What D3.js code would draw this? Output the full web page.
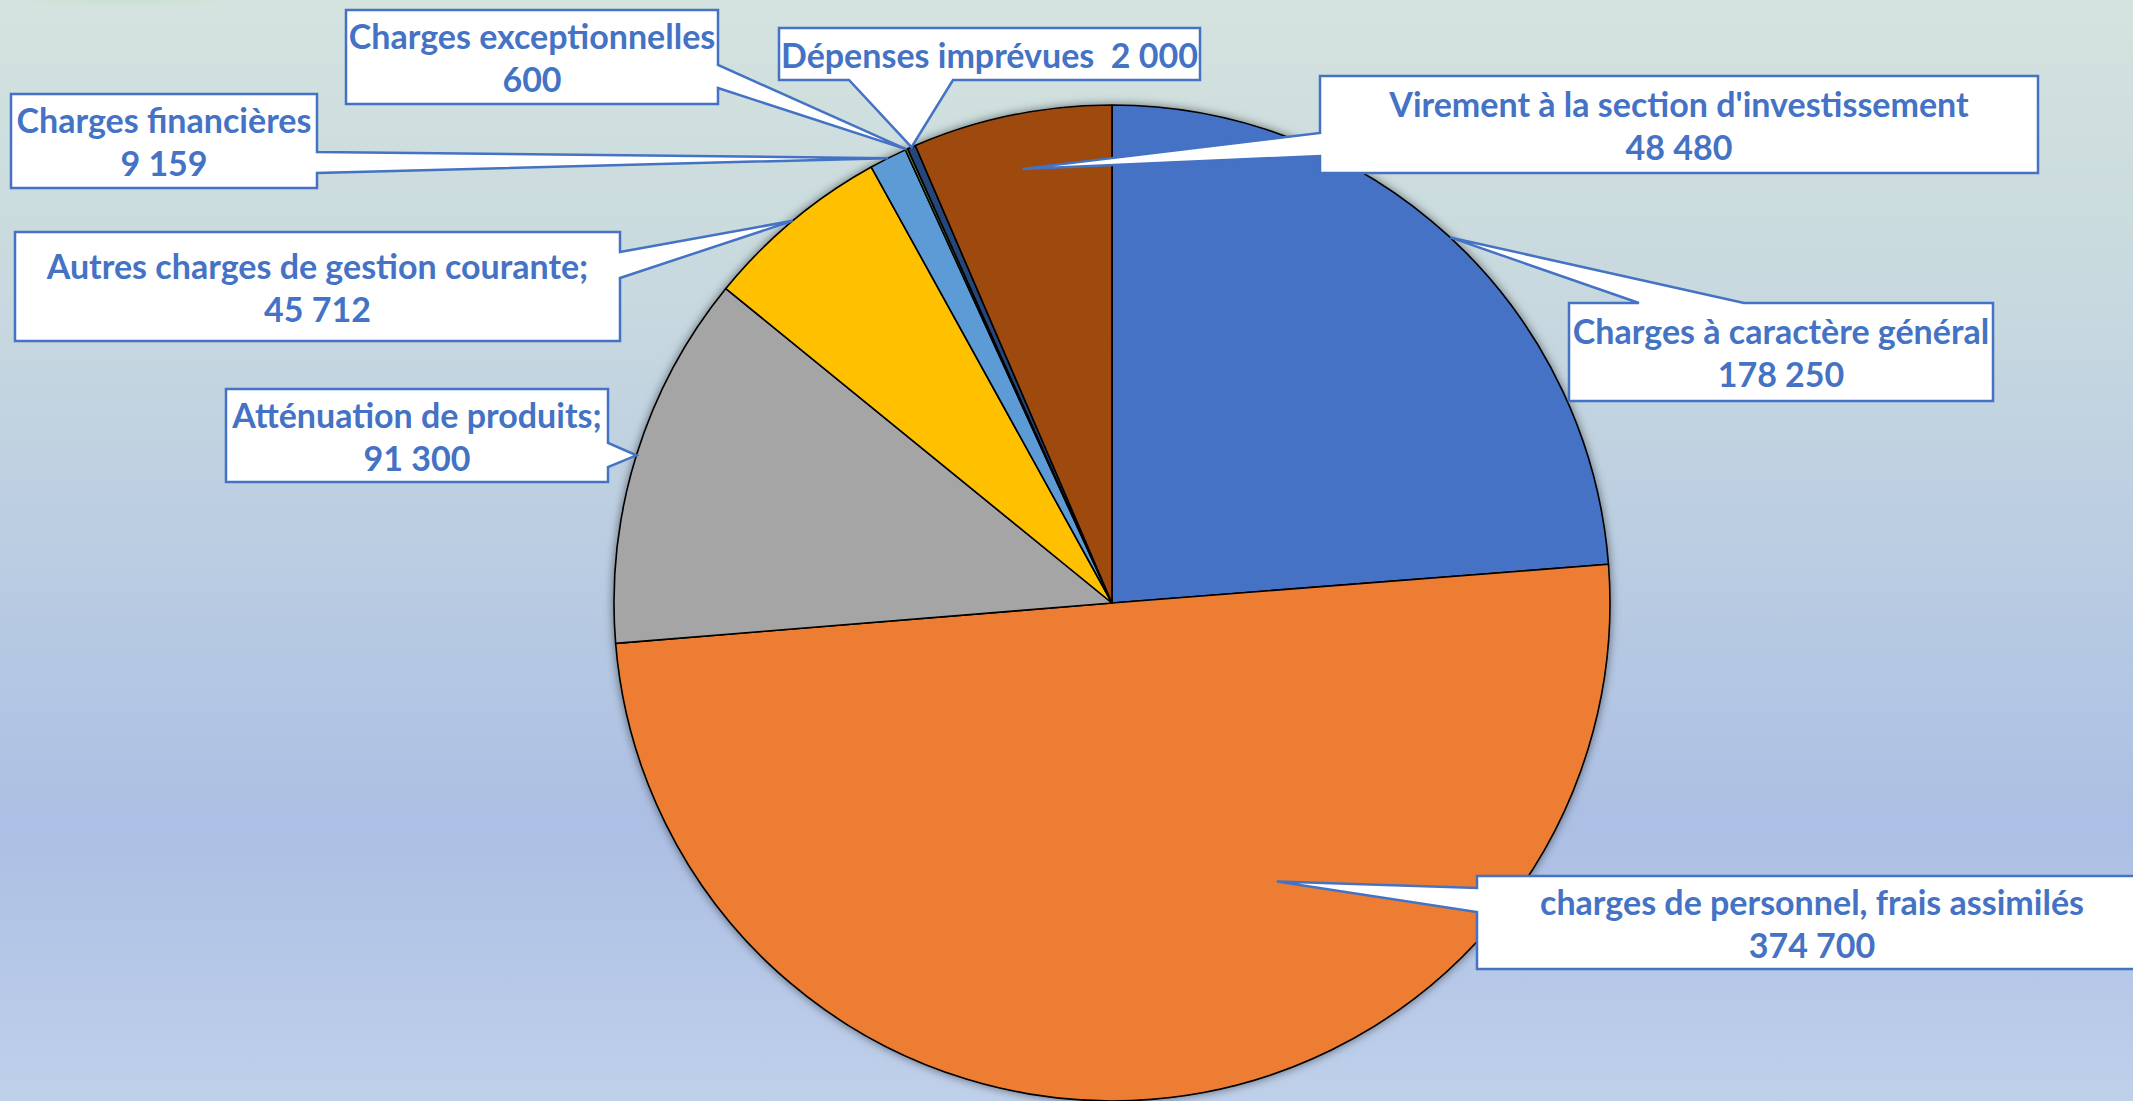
<!DOCTYPE html>
<html>
<head>
<meta charset="utf-8">
<style>
    html, body { margin: 0; padding: 0; overflow: hidden; }
    svg { display: block; }
    .callout-text {
        font-family: Lato, 'Open Sans', sans-serif;
        font-weight: 700;
        fill: #4472C4;
        white-space: pre;
    }
</style>
</head>
<body>
<svg width="2133" height="1101"></svg>

<script src="https://d3js.org/d3.v7.min.js"></script>
<script>

    // data
    let categories = [
        "Charges à caractère général",
        "charges de personnel, frais assimilés",
        "Atténuation de produits;",
        "Autres charges de gestion courante;",
        "Charges financières",
        "Charges exceptionnelles",
        "Dépenses imprévues ",
        "Virement à la section d'investissement"
    ]
    let values = [178250, 374700, 91300, 45712, 9159, 600, 2000, 48480]
    // label on one line or two
    let oneLine = [false, false, false, false, false, false, true, false]

    let width = 2133
    let height = 1101
    let cx = 1112, cy = 603, radius = 498

    let fr = d3.formatLocale({decimal: ",", thousands: " ", grouping: [3], currency: ["", " €"]})
    let fmt = fr.format(",d")

    let color = d3.scaleOrdinal()
        .domain(categories)
        .range(["#4472C4", "#ED7D31", "#A5A5A5", "#FFC000", "#5B9BD5", "#70AD47", "#264478", "#9E480E"])

    // callout boxes (layout only): box, side carrying the pointer, pointer base, pointer tip inside slice
    let callouts = [
        {x: 1569, y: 303, w: 424, h: 98, side: "top", b1: 1639, b2: 1744, t: 0.5, rf: 1.0},
        {x: 1477, y: 876, w: 670, h: 93, side: "left", b1: 888, b2: 912, t: 0.355, rf: 0.65},
        {x: 226, y: 389, w: 382, h: 93, side: "right", b1: 443, b2: 467, t: 0.5, rf: 1.0},
        {x: 15, y: 232, w: 605, h: 109, side: "right", b1: 252, b2: 278, t: 0.5, rf: 1.0},
        {x: 11, y: 94, w: 306, h: 94, side: "right", b1: 152, b2: 173, t: 0.5, rf: 1.0},
        {x: 346, y: 10, w: 372, h: 94, side: "right", b1: 65, b2: 88, t: 0.5, rf: 1.0},
        {x: 779, y: 28, w: 421, h: 52, side: "bottom", b1: 849, b2: 953, t: 0.5, rf: 1.0},
        {x: 1320, y: 76, w: 718, h: 97, side: "left", b1: 133, b2: 156, t: 0.5, rf: 0.89}
    ]

    let svg = d3.select("svg")
    let defs = svg.append("defs")

    let bg = defs.append("linearGradient")
        .attr("id", "bg")
        .attr("x1", 0).attr("y1", 0).attr("x2", 0).attr("y2", 1)
    bg.append("stop").attr("offset", "0%").attr("stop-color", "#D4E3DE")
    bg.append("stop").attr("offset", "28%").attr("stop-color", "#C7D8DF")
    bg.append("stop").attr("offset", "52%").attr("stop-color", "#B9CCE2")
    bg.append("stop").attr("offset", "75%").attr("stop-color", "#ACBFE4")
    bg.append("stop").attr("offset", "100%").attr("stop-color", "#BFD0EA")

    let blob = defs.append("radialGradient").attr("id", "blob")
    blob.append("stop").attr("offset", "0%").attr("stop-color", "#C3DFC6").attr("stop-opacity", 0.9)
    blob.append("stop").attr("offset", "100%").attr("stop-color", "#C3DFC6").attr("stop-opacity", 0)

    let shadow = defs.append("filter")
        .attr("id", "shadow")
        .attr("x", "-10%").attr("y", "-10%").attr("width", "120%").attr("height", "120%")
    shadow.append("feDropShadow")
        .attr("dx", 0).attr("dy", 0)
        .attr("stdDeviation", 5)
        .attr("flood-color", "#000")
        .attr("flood-opacity", 0.5)

    svg.append("rect")
        .attr("width", width)
        .attr("height", height)
        .style("fill", "url(#bg)")

    svg.append("ellipse")
        .attr("cx", 125).attr("cy", -6)
        .attr("rx", 130).attr("ry", 14)
        .style("fill", "url(#blob)")

    let pie = d3.pie().sort(null).value(d => d)
    let arcs = pie(values)

    let arc = d3.arc().innerRadius(0).outerRadius(radius)

    let slices = svg.append("g")
        .attr("class", "slices")
        .attr("transform", `translate(${cx}, ${cy})`)
        .style("filter", "url(#shadow)")

    slices.selectAll("path")
        .data(arcs)
        .join("path")
        .attr("d", arc)
        .style("fill", (d, i) => color(categories[i]))
        .style("stroke", "#000")
        .style("stroke-width", 1.6)
        .style("stroke-linejoin", "round")

    // pointer tip, in page coordinates
    function tipOf(i) {
        let a = arcs[i]
        let c = callouts[i]
        let ang = a.startAngle + (a.endAngle - a.startAngle) * c.t
        let r = radius * c.rf
        return [cx + r * Math.sin(ang), cy - r * Math.cos(ang)]
    }

    function calloutPath(i) {
        let c = callouts[i]
        let tip = tipOf(i)
        let x0 = c.x, y0 = c.y, x1 = c.x + c.w, y1 = c.y + c.h
        let p = d3.path()
        p.moveTo(x0, y0)
        if (c.side == "top") {
            p.lineTo(c.b1, y0); p.lineTo(tip[0], tip[1]); p.lineTo(c.b2, y0)
        }
        p.lineTo(x1, y0)
        if (c.side == "right") {
            p.lineTo(x1, c.b1); p.lineTo(tip[0], tip[1]); p.lineTo(x1, c.b2)
        }
        p.lineTo(x1, y1)
        if (c.side == "bottom") {
            p.lineTo(c.b2, y1); p.lineTo(tip[0], tip[1]); p.lineTo(c.b1, y1)
        }
        p.lineTo(x0, y1)
        if (c.side == "left") {
            p.lineTo(x0, c.b2); p.lineTo(tip[0], tip[1]); p.lineTo(x0, c.b1)
        }
        p.closePath()
        return p.toString()
    }

    let labels = svg.append("g")
        .attr("class", "callouts")
        .selectAll("g")
        .data(arcs)
        .join("g")

    labels.append("path")
        .attr("d", (d, i) => calloutPath(i))
        .style("fill", "#fff")
        .style("stroke", "#4472C4")
        .style("stroke-width", 2.5)
        .style("stroke-linejoin", "miter")

    let fontSize = 34

    labels.each(function (d, i) {
        let c = callouts[i]
        let g = d3.select(this)
        let mx = c.x + c.w / 2
        let my = c.y + c.h / 2
        let lines = oneLine[i]
            ? [categories[i] + " " + fmt(values[i])]
            : [categories[i], fmt(values[i])]
        let gap = 43
        lines.forEach((line, k) => {
            g.append("text")
                .attr("class", "callout-text")
                .attr("x", mx)
                .attr("y", my + (k - (lines.length - 1) / 2) * gap)
                .attr("text-anchor", "middle")
                .attr("dominant-baseline", "central")
                .style("font-size", fontSize + "px")
                .text(line)
        })
    })

</script>
</body>
</html>
